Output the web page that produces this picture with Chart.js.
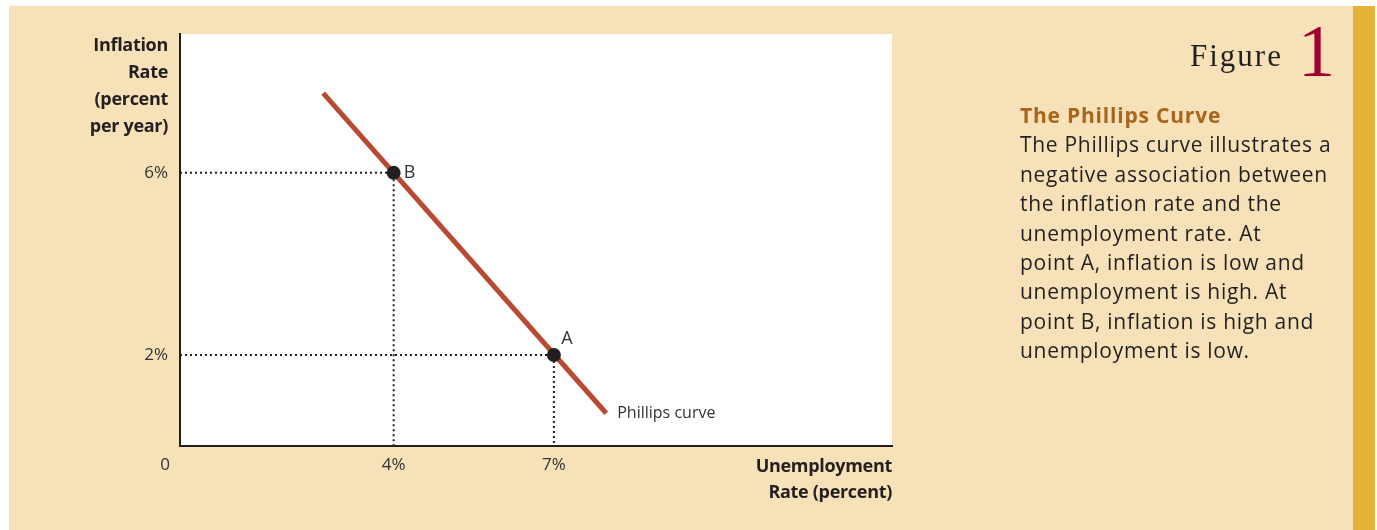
<!DOCTYPE html>
<html lang="en">
<head>
  <meta charset="UTF-8" />
  <title>Figure 1 | The Phillips Curve</title>
  <script src="https://cdn.jsdelivr.net/npm/chart.js"></script>
  <style>
    body { margin: 0; background: #fff; width: 1377px; height: 530px; overflow: hidden; position: relative; font-family: "Open Sans", sans-serif; }
    .panel { position: absolute; left: 9px; top: 6px; width: 1344px; height: 524px; background: #f6e1b8; }
    .strip { position: absolute; left: 1353px; top: 6px; width: 22px; height: 524px; background: #e4b43a; }
    #chart { position: absolute; left: 0; top: 0; }
    .ytitle { position: absolute; right: calc(1377px - 168px); top: 31px; text-align: right; font: bold 18px/27px "Open Sans", sans-serif; color: #231f20; letter-spacing: -0.3px; }
    .xtitle { position: absolute; right: calc(1377px - 892px); top: 452px; text-align: right; font: bold 18px/26px "Open Sans", sans-serif; color: #231f20; letter-spacing: -0.3px; }
    .fig { position: absolute; left: 1190px; top: -1px; color: #231f20; white-space: nowrap; }
    .fig .word { font: 31px "Liberation Serif", serif; letter-spacing: 2px; vertical-align: baseline; }
    .fig .num { font: 74px "Liberation Serif", serif; color: #a2002f; margin-left: 15px; position: relative; top: 10px; }
    .caption { position: absolute; left: 1020px; top: 101px; width: 340px; color: #231f20; font: 21px/29.4px "Open Sans", sans-serif; letter-spacing: 0.7px; white-space: nowrap; }
    .caption h3 { margin: 0; font: bold 21px/29.4px "Open Sans", sans-serif; color: #a8651c; letter-spacing: 0.8px; }
  </style>
</head>
<body>

  <div class="panel"></div>
  <div class="strip"></div>

  <!-- Chart -->
  <canvas id="chart" width="1377" height="530"></canvas>

  <!-- Axis titles -->
  <div class="ytitle">Inflation<br>Rate<br>(percent<br>per year)</div>
  <div class="xtitle">Unemployment<br>Rate (percent)</div>

  <!-- Caption -->
  <div class="fig"><span class="word">Figure</span><span class="num">1</span></div>
  <div class="caption">
    <h3>The Phillips Curve</h3>
    The Phillips curve illustrates a<br>
    negative association between<br>
    the inflation rate and the<br>
    unemployment rate. At<br>
    point A, inflation is low and<br>
    unemployment is high. At<br>
    point B, inflation is high and<br>
    unemployment is low.
  </div>

  <script>
    // data
    const curveX = [2.68, 7.98];
    const curveY = [7.75, 0.72];
    const pointNames = ['A', 'B'];
    const pointX = [7, 4];
    const pointY = [2, 6];
    const xTicks = [4, 7];
    const xTickLabels = ['4%', '7%'];
    const yTicks = [2, 6];
    const yTickLabels = ['2%', '6%'];
    const xMax = 13.33;
    const yMax = 9.05;

    const ink = '#231f20';
    const tickFont = { family: 'Open Sans', size: 17 };

    const guideSets = pointX.map((px, i) => ({
      type: 'line',
      data: [{ x: 0, y: pointY[i] }, { x: px, y: pointY[i] }, { x: px, y: 0 }],
      borderColor: ink,
      borderWidth: 2,
      borderDash: [2, 3],
      pointRadius: 0,
      order: 2
    }));

    // white plot area + point labels
    const decor = {
      id: 'decor',
      beforeDraw(chart) {
        const a = chart.chartArea, ctx = chart.ctx;
        ctx.save();
        ctx.fillStyle = '#fff';
        ctx.fillRect(a.left, a.top, a.right - a.left, a.bottom - a.top);
        ctx.restore();
      },
      afterDraw(chart) {
        const ctx = chart.ctx, xs = chart.scales.x, ys = chart.scales.y;
        ctx.save();
        ctx.fillStyle = '#333';
        ctx.font = '17px "Open Sans"';
        ctx.textBaseline = 'middle';
        // origin
        ctx.textAlign = 'center';
        ctx.fillText('0', xs.getPixelForValue(0) - 15, ys.getPixelForValue(0) + 19);
        // A and B
        ctx.font = '18px "Open Sans"';
        pointNames.forEach((n, i) => {
          const px = xs.getPixelForValue(pointX[i]);
          const py = ys.getPixelForValue(pointY[i]);
          if (n === 'A') ctx.fillText(n, px + 13, py - 16);
          else ctx.fillText(n, px + 16, py);
        });
        // curve label
        ctx.textAlign = 'left';
        ctx.font = '16px "Open Sans"';
        ctx.fillText('Phillips curve', xs.getPixelForValue(curveX[1]) + 11, ys.getPixelForValue(curveY[1]));
        ctx.restore();
      }
    };

    new Chart(document.getElementById('chart'), {
      type: 'scatter',
      data: {
        datasets: [
          {
            type: 'scatter',
            data: pointX.map((x, i) => ({ x, y: pointY[i] })),
            pointRadius: 7,
            pointBackgroundColor: ink,
            pointBorderWidth: 0,
            order: 0
          },
          {
            type: 'line',
            data: curveX.map((x, i) => ({ x, y: curveY[i] })),
            borderColor: '#b84a33',
            borderWidth: 5,
            pointRadius: 0,
            order: 1
          },
          ...guideSets
        ]
      },
      options: {
        responsive: false,
        animation: false,
        layout: { padding: { left: 0, top: 34, right: 1377 - 892, bottom: 0 } },
        plugins: { legend: { display: false }, tooltip: { enabled: false } },
        scales: {
          x: {
            type: 'linear', min: 0, max: xMax,
            afterBuildTicks: s => { s.ticks = xTicks.map(v => ({ value: v })); },
            afterFit: s => { s.height = 84; },
            ticks: {
              autoSkip: false, maxRotation: 0, padding: 9, color: '#333', font: tickFont,
              callback: v => xTickLabels[xTicks.indexOf(v)]
            },
            grid: { display: false, drawTicks: false },
            border: { color: ink, width: 2 }
          },
          y: {
            type: 'linear', min: 0, max: yMax,
            afterBuildTicks: s => { s.ticks = yTicks.map(v => ({ value: v })); },
            afterFit: s => { s.width = 180; },
            ticks: {
              autoSkip: false, padding: 12, color: '#333', font: tickFont,
              callback: v => yTickLabels[yTicks.indexOf(v)]
            },
            grid: { display: false, drawTicks: false },
            border: { color: ink, width: 2 }
          }
        }
      },
      plugins: [decor]
    });
  </script>
</body>
</html>
